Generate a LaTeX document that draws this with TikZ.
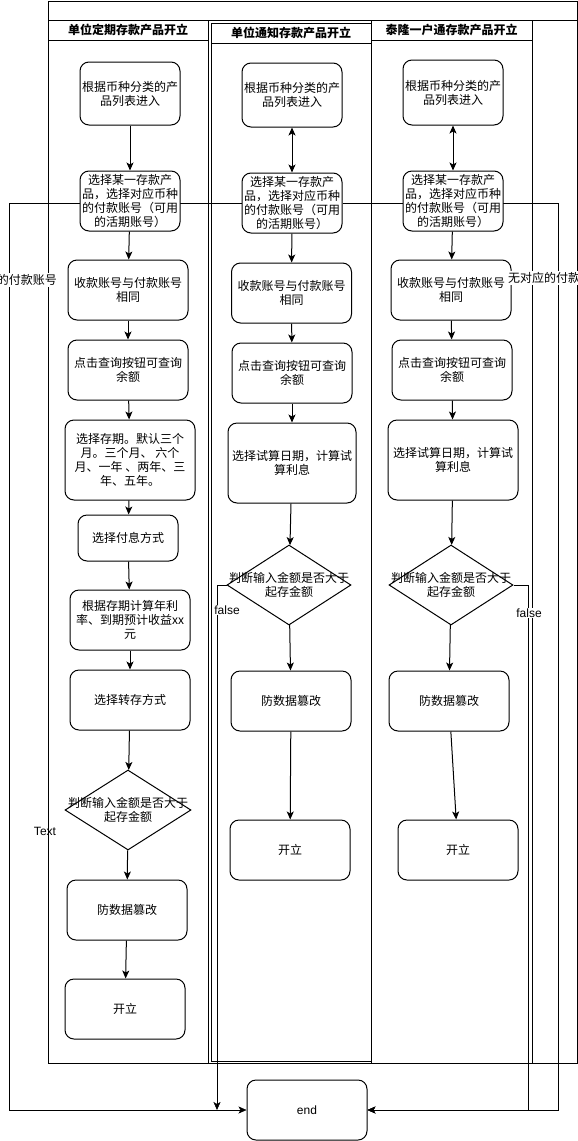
\documentclass[tikz,border=0pt]{standalone}
\usepackage{fontspec}
\setmainfont{Liberation Sans}
\newfontfamily\cjk{Noto Sans CJK SC}
\usepackage{tikz}
\usetikzlibrary{arrows.meta,shapes.geometric,backgrounds}
\tikzset{
	box/.style={draw,fill=white,rounded corners=9pt,align=center,inner sep=1pt,font=\cjk\fontsize{12}{14}\selectfont},
	dmd/.style={draw,fill=white,diamond,inner sep=0pt,minimum width=126pt,minimum height=80pt},
	dtxt/.style={align=center,inner sep=0pt,font=\cjk\fontsize{12}{14}\selectfont},
	ttl/.style={font=\cjk\bfseries\fontsize{12}{14}\selectfont},
	lbl/.style={fill=white,inner sep=1pt,font=\fontsize{12}{14}\selectfont},
	clbl/.style={lbl,font=\cjk\fontsize{12}{14}\selectfont},
	arr/.style={-{Stealth[length=8pt,width=7pt,inset=2pt]}},
	darr/.style={{Stealth[length=8pt,width=7pt,inset=2pt]}-{Stealth[length=8pt,width=7pt,inset=2pt]}}
}

\begin{document}
\begin{tikzpicture}[x=1pt,y=-1pt,line width=1pt]
\useasboundingbox (0,0) rectangle (578,1141);
\draw (48,1) rectangle (577,1063);
\draw (48,20) -- (577,20);
\foreach \nm/\xa/\xb/\ya/\yb/\txt in {l1/48/208/20/1063/单位定期存款产品开立,l2/211/371/23/1061/单位通知存款产品开立,l3/371/532/20/1063/泰隆一户通存款产品开立}{
	\draw (\xa,\ya) rectangle (\xb,\yb);
	\draw (\xa,\ya+20) -- (\xb,\ya+20);
	\node (\nm) [ttl] at ({(\xa+\xb)/2},\ya+10) {\txt};
}
% lane 1
\node (a1) [box,minimum width=100pt,minimum height=63pt] at (130,93.5) {根据币种分类的产\\品列表进入};
\node (b1) [box,minimum width=100pt,minimum height=60pt] at (130,201) {选择某一存款产\\品，选择对应币种\\的付款账号（可用\\的活期账号）};
\node (c1) [box,minimum width=120pt,minimum height=60pt] at (128,290) {收款账号与付款账号\\相同};
\node (d1) [box,minimum width=120pt,minimum height=60pt] at (128,370) {点击查询按钮可查询\\余额};
\node (e1) [box,minimum width=130pt,minimum height=80pt] at (130,460) {选择存期。默认三个\\月。三个月、 六个\\月、一年 、两年、三\\年、五年。};
\node (f1) [box,minimum width=100pt,minimum height=46pt] at (128,538) {选择付息方式};
\node (g1) [box,minimum width=120pt,minimum height=60pt] at (130,620) {根据存期计算年利\\率、到期预计收益xx\\元};
\node (h1) [box,minimum width=120pt,minimum height=60pt] at (130,700) {选择转存方式};
\node (i1) [dmd] at (128,810) {};
\node (i1t) [dtxt] at (i1) {判断输入金额是否大于\\起存金额};
\node (j1) [box,minimum width=120pt,minimum height=60pt] at (127,910) {防数据篡改};
\node (k1) [box,minimum width=120pt,minimum height=60pt] at (125,1009) {开立};
% lane 2
\node (a2) [box,minimum width=100pt,minimum height=64pt] at (292,95) {根据币种分类的产\\品列表进入};
\node (b2) [box,minimum width=100pt,minimum height=60pt] at (292,203) {选择某一存款产\\品，选择对应币种\\的付款账号（可用\\的活期账号）};
\node (c2) [box,minimum width=120pt,minimum height=60pt] at (291.5,293) {收款账号与付款账号\\相同};
\node (d2) [box,minimum width=120pt,minimum height=60pt] at (292,373) {点击查询按钮可查询\\余额};
\node (e2) [box,minimum width=128pt,minimum height=80pt] at (292,463) {选择试算日期，计算试\\算利息};
\node (i2) [dmd,minimum width=124pt] at (289,585) {};
\node (i2t) [dtxt] at (i2) {判断输入金额是否大于\\起存金额};
\node (j2) [box,minimum width=120pt,minimum height=60pt] at (291,701) {防数据篡改};
\node (k2) [box,minimum width=120pt,minimum height=60pt] at (290,850) {开立};
% lane 3
\node (a3) [box,minimum width=100pt,minimum height=65pt] at (453,92.5) {根据币种分类的产\\品列表进入};
\node (b3) [box,minimum width=100pt,minimum height=60pt] at (453,201) {选择某一存款产\\品，选择对应币种\\的付款账号（可用\\的活期账号）};
\node (c3) [box,minimum width=120pt,minimum height=60pt] at (451,290) {收款账号与付款账号\\相同};
\node (d3) [box,minimum width=120pt,minimum height=60pt] at (452,370) {点击查询按钮可查询\\余额};
\node (e3) [box,minimum width=130pt,minimum height=80pt] at (453,460) {选择试算日期，计算试\\算利息};
\node (i3) [dmd,minimum width=124pt] at (451,585) {};
\node (i3t) [dtxt] at (i3) {判断输入金额是否大于\\起存金额};
\node (j3) [box,minimum width=120pt,minimum height=60pt] at (449,701) {防数据篡改};
\node (k3) [box,minimum width=120pt,minimum height=60pt] at (458,850) {开立};
\node (end) [box,minimum width=120pt,minimum height=60pt,font=\fontsize{12}{14}\selectfont] at (307,1110) {end};
\foreach \a/\b in {a1/b1,b1/c1,c1/d1,d1/e1,e1/f1,f1/g1,g1/h1,h1/i1,i1/j1,j1/k1,b2/c2,c2/d2,d2/e2,e2/i2,i2/j2,j2/k2,b3/c3,c3/d3,d3/e3,e3/i3,i3/j3,j3/k3}
	\draw[arr] (\a) -- (\b);
\draw[darr] (a2) -- (b2);
\draw[darr] (a3) -- (b3);
\coordinate (lt) at (9,1110);
\coordinate (rt) at (558,1110);
\coordinate (fm) at (217,1110);
\coordinate (fr) at (528,1110);
\begin{pgfonlayer}{background}
\draw[arr] (b2.west) -| (lt) -- (end.west);
\draw[arr] (b2.east) -| (rt) -- (end.east);
\end{pgfonlayer}
\draw[arr] (i2.west) -| (fm);
\draw[arr] (i3.east) -| (fr) -- (end.east);
\node (nl) [clbl] at (9,280) {无对应的付款账号};
\node (nr) [clbl] at (556,278) {无对应的付款账号};
\node (fl2) [lbl] at (227,610) {false};
\node (fl3) [lbl] at (529,613) {false};
\node (tx) [lbl,fill=none] at (45,831) {Text};
\end{tikzpicture}
\end{document}
